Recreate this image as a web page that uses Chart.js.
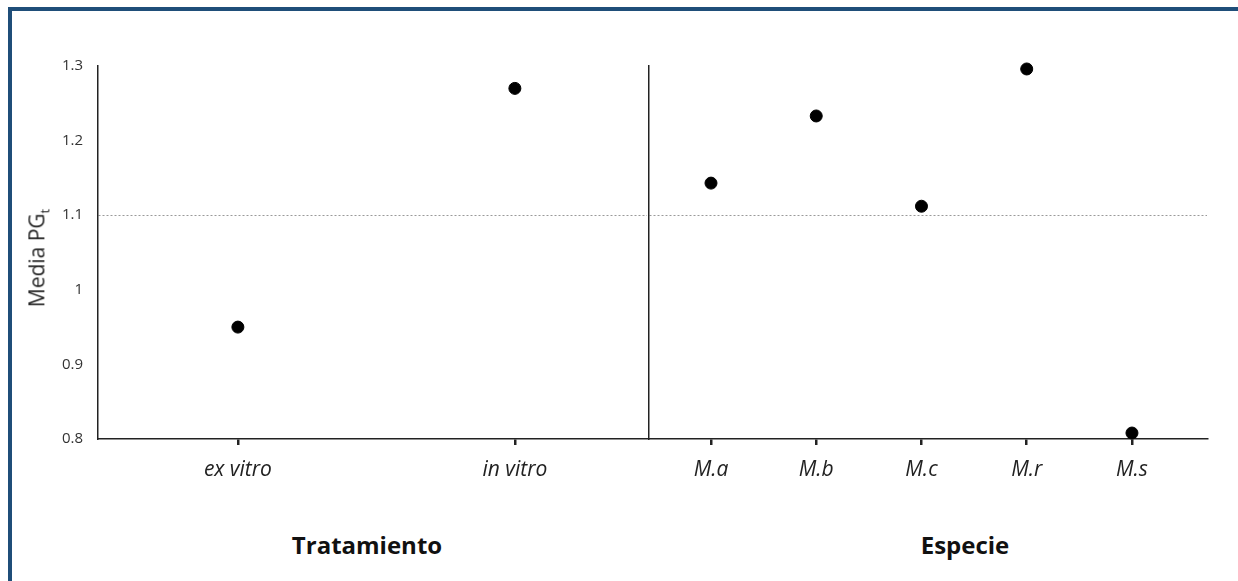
<!DOCTYPE html>
<html lang="es">
<head>
<meta charset="utf-8">
<title>Media PGt por tratamiento y especie</title>
<script src="https://cdn.jsdelivr.net/npm/chart.js@4.4.1/dist/chart.umd.min.js"></script>
<style>
  html, body { margin: 0; padding: 0; background: #fff; }
  body { width: 1238px; height: 581px; position: relative; overflow: hidden; font-family: "Open Sans", Lato, sans-serif; }
  .marco { position: absolute; left: 8px; top: 7px; width: 1240px; height: 590px;
           border-top: 4px solid #1f4e79; border-left: 4px solid #1f4e79; }
  .panel { position: absolute; top: 0; height: 500px; }
  #panel-tratamiento { left: 0; width: 648px; }
  #panel-especie { left: 648px; width: 590px; }
  .titulo-eje { position: absolute; top: 544px; font-weight: bold; font-size: 24px; color: #111;
                transform: translate(-50%, -50%); white-space: nowrap; }
  .titulo-y { position: absolute; left: 38px; top: 258px; font-size: 21px; color: #222;
              transform: translate(-50%, -50%) rotate(-90deg); white-space: nowrap; }
  .titulo-y sub { font-size: 13px; }
</style>
</head>
<body>
<div class="marco"></div>
<div class="panel" id="panel-tratamiento"><canvas id="chart-tratamiento" width="648" height="500"></canvas></div>
<div class="panel" id="panel-especie"><canvas id="chart-especie" width="590" height="500"></canvas></div>
<div class="titulo-y">Media PG<sub>t</sub></div>
<div class="titulo-eje" style="left: 367px;">Tratamiento</div>
<div class="titulo-eje" style="left: 965px;">Especie</div>

<script>
const tratamientos = ['ex vitro', 'in vitro'];
const mediaTratamiento = [0.95, 1.27];

const especies = ['M.a', 'M.b', 'M.c', 'M.r', 'M.s'];
const mediaEspecie = [1.143, 1.233, 1.112, 1.296, 0.808];

const yTicks = [0.8, 0.9, 1, 1.1, 1.2, 1.3];
const referencia = 1.1;

const FUENTE = '"Open Sans", Lato, sans-serif';
const NEGRO = '#222';

function puntos(valores) {
    return valores.map((v, i) => ({ x: i, y: v }));
}

function ejeY(conEtiquetas, anchoEje) {
    return {
        min: 0.8,
        max: 1.3,
        afterBuildTicks: (scale) => {
            scale.ticks = yTicks.map(v => ({ value: v }));
        },
        afterFit: (scale) => {
            scale.width = anchoEje;
        },
        // border.dash también se aplica a las líneas de la rejilla
        border: { color: NEGRO, width: 1.5, dash: [2, 2] },
        grid: {
            drawTicks: false,
            color: (ctx) => Math.abs(ctx.tick.value - referencia) < 1e-6 ? '#9a9a9a' : 'rgba(0,0,0,0)',
            lineWidth: 1
        },
        ticks: {
            display: conEtiquetas,
            padding: 15,
            color: '#333',
            font: { family: FUENTE, size: 15 },
            callback: (v) => String(Number(v.toFixed(1)))
        }
    };
}

function ejeX(etiquetas, min, max) {
    return {
        type: 'linear',
        min: min,
        max: max,
        afterBuildTicks: (scale) => {
            scale.ticks = etiquetas.map((_, i) => ({ value: i }));
        },
        afterFit: (scale) => {
            scale.height = 61;
        },
        border: { color: NEGRO, width: 1.5 },
        grid: {
            drawOnChartArea: false,
            drawTicks: true,
            tickLength: 6,
            color: NEGRO,
            lineWidth: 2.5
        },
        ticks: {
            padding: 12,
            color: NEGRO,
            maxRotation: 0,
            font: { family: FUENTE, size: 21, style: 'italic' },
            callback: (v) => etiquetas[v]
        }
    };
}

function crearPanel(id, etiquetas, valores, opciones) {
    return new Chart(document.getElementById(id), {
        type: 'scatter',
        data: {
            datasets: [{
                data: puntos(valores),
                backgroundColor: '#000',
                borderColor: '#000',
                pointRadius: 6,
                pointHoverRadius: 6,
                clip: false
            }]
        },
        options: {
            responsive: false,
            animation: false,
            layout: { autoPadding: false, padding: opciones.padding },
            plugins: { legend: { display: false }, tooltip: { enabled: false } },
            scales: {
                x: ejeX(etiquetas, opciones.min, opciones.max),
                y: ejeY(opciones.etiquetasY, opciones.anchoEje)
            }
        }
    });
}

crearPanel('chart-tratamiento', tratamientos, mediaTratamiento, {
    min: -0.505, max: 1.477,
    etiquetasY: true, anchoEje: 98,
    padding: { top: 66, right: 1, bottom: 0, left: 0 }
});

crearPanel('chart-especie', especies, mediaEspecie, {
    min: -0.589, max: 4.713,
    etiquetasY: false, anchoEje: 0,
    padding: { top: 66, right: 31, bottom: 0, left: 1 }
});
</script>
</body>
</html>
